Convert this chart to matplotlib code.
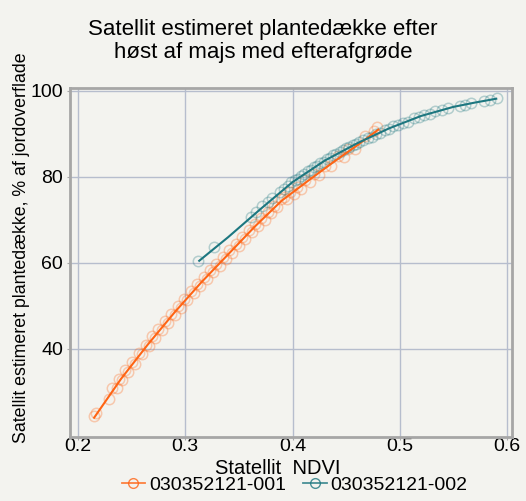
import matplotlib
matplotlib.use('Agg')
import matplotlib.pyplot as plt
from matplotlib.lines import Line2D

plt.rcParams['font.family'] = ['Liberation Sans', 'DejaVu Sans']

# values
title = 'Satellit estimeret plantedække efter\nhøst af majs med efterafgrøde'
x_label = 'Statellit  NDVI'
y_label = 'Satellit estimeret plantedække, % af jordoverflade'
series_names = ['030352121-001', '030352121-002']

x_ticks = [0.2, 0.3, 0.4, 0.5, 0.6]
y_ticks = [40, 60, 80, 100]

# field 001 - observations
orange_ndvi = [0.215, 0.217, 0.229, 0.232, 0.236, 0.238, 0.241, 0.244, 0.247, 0.250,
               0.253, 0.257, 0.260, 0.263, 0.266, 0.269, 0.272, 0.275, 0.278, 0.281,
               0.284, 0.287, 0.290, 0.293, 0.296, 0.299, 0.302, 0.305, 0.308, 0.311,
               0.314, 0.317, 0.320, 0.323, 0.326, 0.329, 0.332, 0.335, 0.338, 0.341,
               0.344, 0.347, 0.350, 0.353, 0.356, 0.359, 0.362, 0.365, 0.368, 0.371,
               0.374, 0.377, 0.380, 0.383, 0.386, 0.389, 0.392, 0.395, 0.398, 0.401,
               0.404, 0.408, 0.412, 0.416, 0.420, 0.425, 0.430, 0.436, 0.442, 0.448,
               0.452, 0.458, 0.468, 0.476, 0.479]
orange_cover = [24.3, 25.2, 28.4, 30.9, 31.0, 33.0, 32.8, 35.0, 34.6, 36.9,
                36.6, 39.1, 38.8, 41.0, 40.7, 42.9, 42.5, 44.6, 44.3, 46.4,
                46.0, 48.2, 47.9, 50.0, 49.6, 51.7, 51.3, 53.4, 52.9, 55.0,
                54.6, 56.7, 56.2, 58.3, 57.8, 59.8, 59.3, 61.4, 60.9, 62.9,
                62.4, 64.5, 64.0, 66.0, 65.6, 67.6, 67.1, 69.1, 68.7, 70.4,
                70.1, 71.9, 71.5, 73.3, 72.9, 74.8, 75.4, 74.9, 76.6, 76.0,
                77.7, 77.3, 79.2, 78.9, 80.7, 80.5, 82.6, 82.6, 84.8, 84.7,
                86.6, 86.4, 89.5, 90.8, 91.6]
# field 001 - trend line
orange_line_ndvi = [0.215, 0.24, 0.265, 0.29, 0.315, 0.34, 0.365, 0.39, 0.415, 0.44, 0.46, 0.48]
orange_line_cover = [24.0, 33.0, 41.0, 48.5, 55.5, 62.0, 68.5, 74.5, 79.2, 83.8, 87.3, 91.0]

# field 002 - observations
teal_ndvi = [0.312, 0.327, 0.361, 0.366, 0.372, 0.377, 0.381, 0.388, 0.392, 0.396,
             0.399, 0.402, 0.405, 0.408, 0.411, 0.414, 0.417, 0.420, 0.423, 0.426,
             0.429, 0.432, 0.435, 0.438, 0.441, 0.444, 0.447, 0.450, 0.453, 0.456,
             0.459, 0.462, 0.466, 0.470, 0.474, 0.478, 0.482, 0.486, 0.490, 0.494,
             0.498, 0.503, 0.508, 0.513, 0.518, 0.523, 0.528, 0.533, 0.539, 0.545,
             0.556, 0.561, 0.566, 0.579, 0.584, 0.591]
teal_cover = [60.4, 63.6, 70.8, 71.8, 73.2, 74.2, 75.0, 76.5, 77.3, 77.9,
              78.8, 79.4, 79.6, 80.3, 80.7, 81.3, 81.6, 82.3, 82.6, 83.2,
              83.5, 84.2, 84.5, 85.1, 85.3, 85.9, 86.2, 86.7, 86.9, 87.5,
              87.6, 88.2, 88.5, 89.1, 89.4, 90.0, 90.3, 90.9, 91.2, 91.8,
              92.0, 92.6, 92.9, 93.6, 93.9, 94.5, 94.7, 95.3, 95.5, 96.0,
              96.5, 96.7, 97.2, 97.7, 97.9, 98.3]
# field 002 - trend line
teal_line_ndvi = [0.313, 0.34, 0.37, 0.40, 0.43, 0.46, 0.49, 0.52, 0.55, 0.57, 0.59]
teal_line_cover = [60.5, 66.0, 72.5, 78.8, 83.8, 87.8, 91.3, 94.2, 96.3, 97.3, 98.2]

orange = '#ff6414'
teal = '#1d7780'
bg = '#f3f3ef'

fig = plt.figure(figsize=(5.26, 5.01), dpi=100, facecolor=bg)
ax = fig.add_axes([0.1331, 0.1277, 0.8403, 0.6967], facecolor=bg)

for xs, ys, lx, ly, c in [(orange_ndvi, orange_cover, orange_line_ndvi, orange_line_cover, orange),
                          (teal_ndvi, teal_cover, teal_line_ndvi, teal_line_cover, teal)]:
    ax.plot(xs, ys, linestyle='none', marker='o', markersize=7.5,
            markerfacecolor='none', markeredgecolor=c, markeredgewidth=1.1,
            alpha=0.3, zorder=3)
    ax.plot(lx, ly, color=c, linewidth=1.5, zorder=4)

ax.set_xlim(0.1925, 0.6047)
ax.set_ylim(19.5, 100.7)
ax.set_xticks(x_ticks)
ax.set_xticklabels([f'{v:.1f}' for v in x_ticks])
ax.set_yticks(y_ticks)
ax.tick_params(labelsize=14, length=2.5, color='#a8a8a8')
ax.tick_params(axis='x', pad=-1.5)
ax.tick_params(axis='y', pad=2.5)

ax.grid(True, color='#b6bdcd', linewidth=1.0)
ax.set_axisbelow(True)
for s in ax.spines.values():
    s.set_color('#a6a6a6')
    s.set_linewidth(2)

fig.text(0.5, 0.962, title, ha='center', va='top', fontsize=16, linespacing=1.15)
ax.set_xlabel(x_label, fontsize=14.5, labelpad=0)
ax.xaxis.set_label_coords(0.47, -0.062)
fig.text(0.041, 0.505, y_label, rotation=90, ha='center', va='center', fontsize=12.8)

handles = [Line2D([], [], color=c, marker='o', markersize=7, markerfacecolor='none',
                  markeredgewidth=1.0, linewidth=1.3) for c in (orange, teal)]
leg = fig.legend(handles, series_names, loc='center', bbox_to_anchor=(0.56, 0.032),
                 ncol=2, frameon=False, fontsize=14, handlelength=1.2,
                 handletextpad=0.2, columnspacing=0.9, borderaxespad=0)
for h in leg.legend_handles:
    h.set_alpha(0.8)

plt.savefig('out.png', dpi=100, facecolor=bg)
